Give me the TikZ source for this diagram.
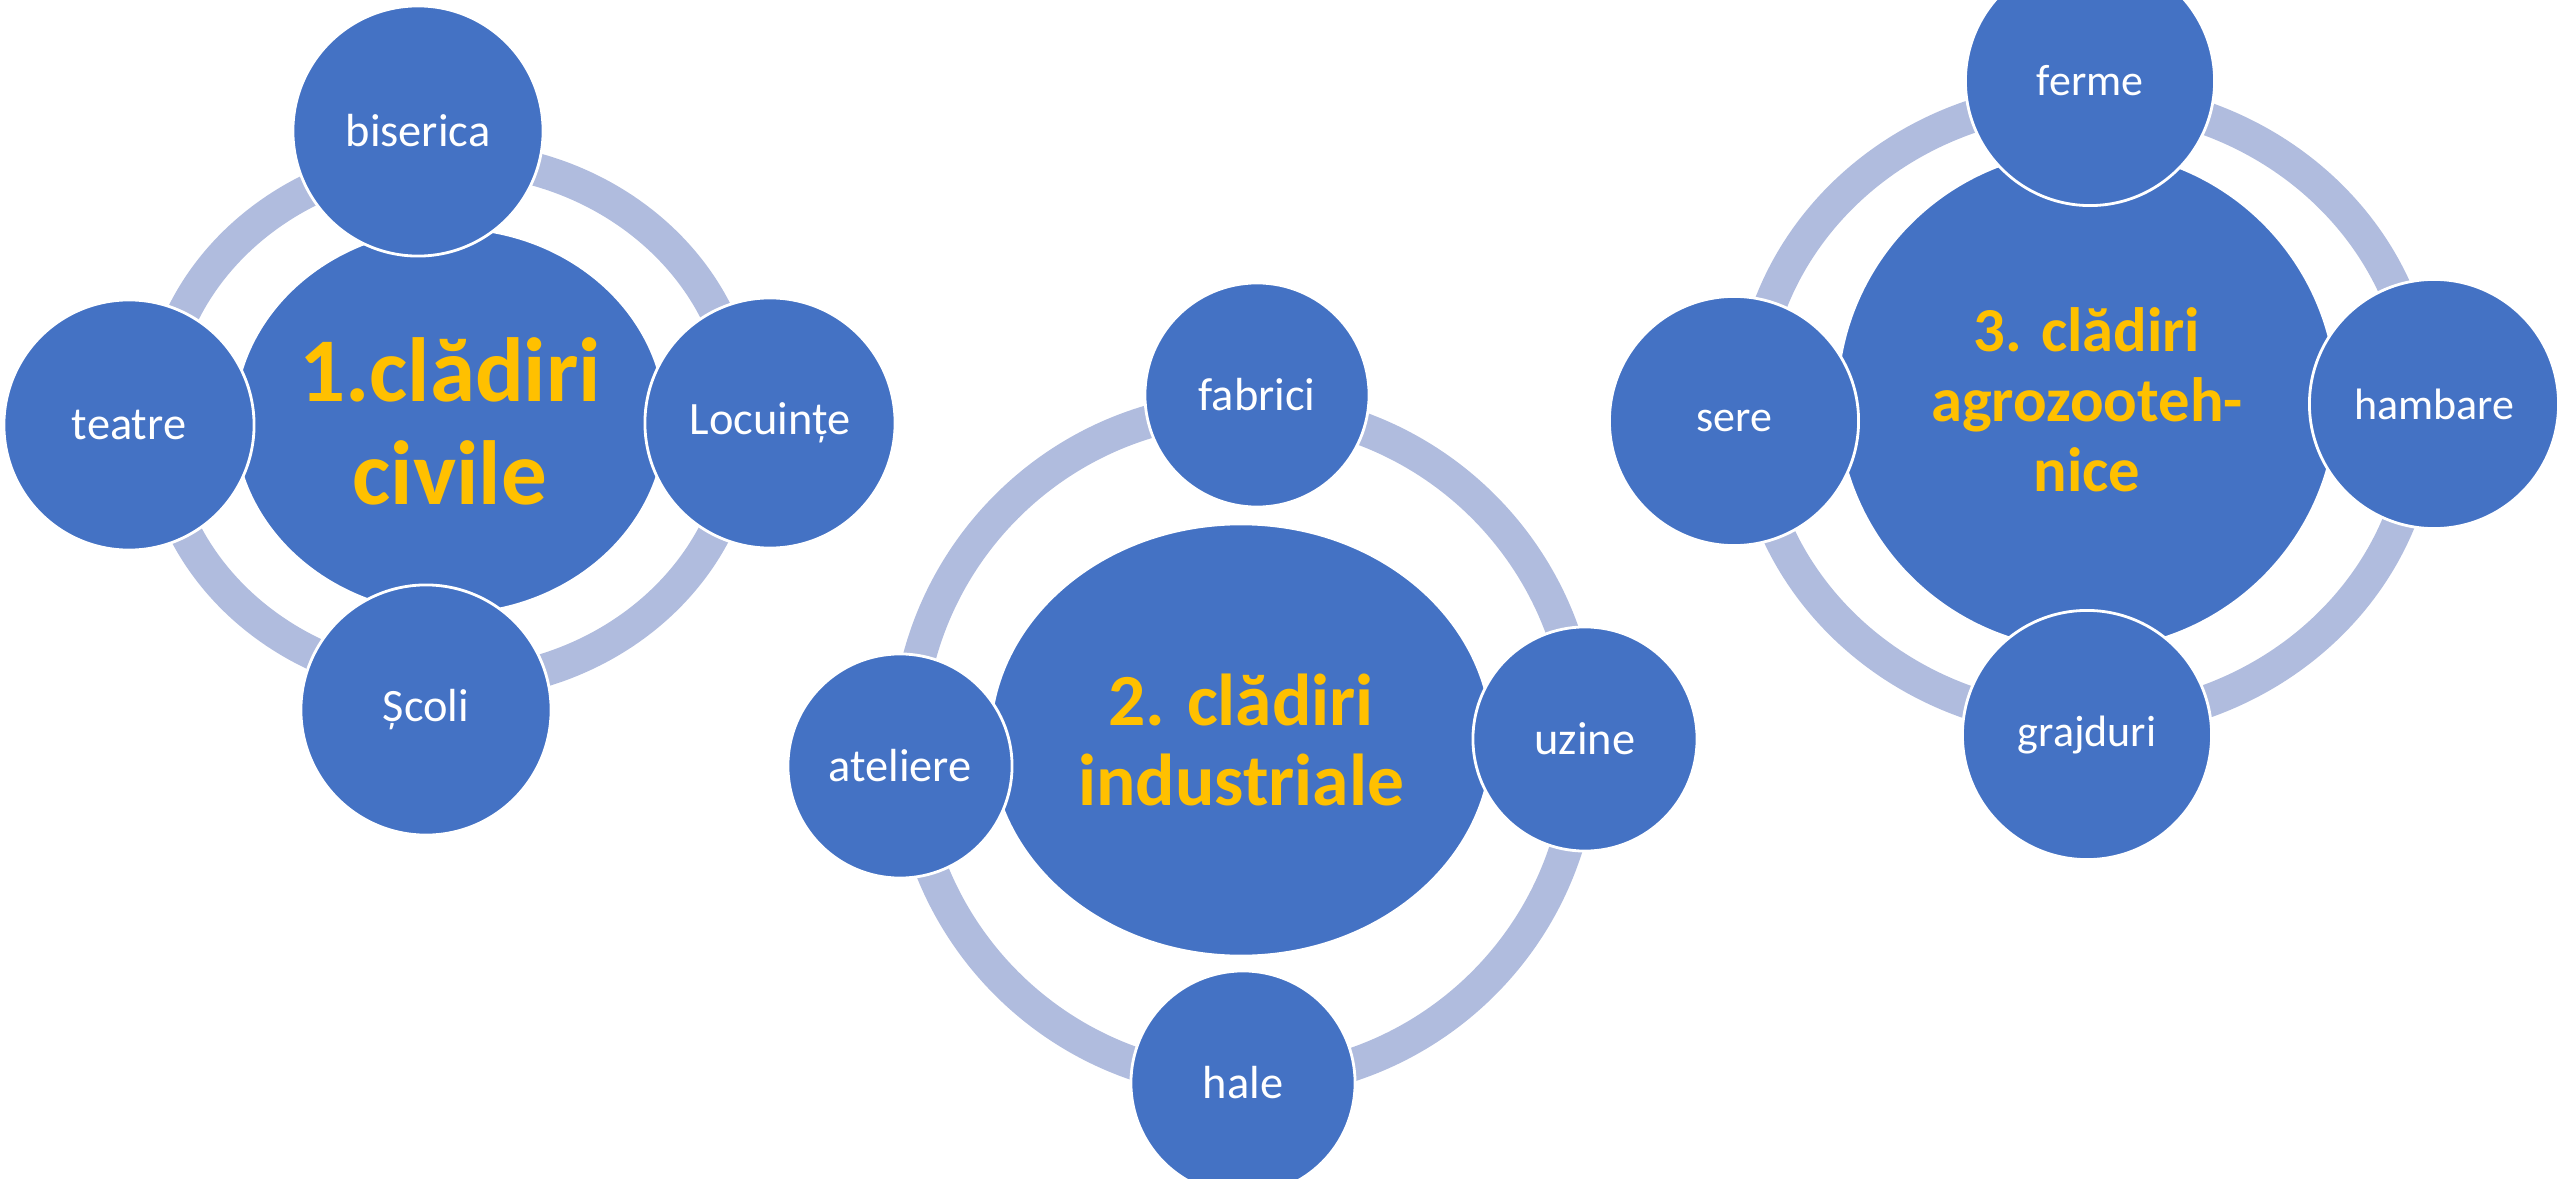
\documentclass[tikz,border=0pt]{standalone}
\usepackage{fontspec}
\setmainfont{Carlito}
\usetikzlibrary{shapes.geometric}
\definecolor{boxblue}{RGB}{68,114,196}
\definecolor{ringblue}{RGB}{176,188,222}
\definecolor{titlegold}{RGB}{255,192,0}

\begin{document}
\begin{tikzpicture}[x=0.01cm, y=-0.01cm,
		sat/.style={circle, fill=boxblue, draw=white, line width=0.8pt, text=white, inner sep=0pt, minimum size=2.5cm, font=\fontsize{13.2}{15}\selectfont},
		hub/.style={fill=boxblue, draw=white, line width=0.8pt, text=titlegold, align=center, inner sep=0pt},
		ring/.style={draw=ringblue, line width=0.33cm}]
		\useasboundingbox (0,0) rectangle (2560,1179);
		\clip (0,0) rectangle (2560,1179);
		
		\coordinate (G1) at (450,421);
		\coordinate (G2) at (1245,745);
		\coordinate (G3) at (2086,410);
		
		\draw[ring] (G1) ellipse (2.92cm and 2.63cm);
		\draw[ring] (G2) circle (3.37cm);
		\draw[ring] (G3) ellipse (3.35cm and 3.12cm);
		
		\node[hub, ellipse, minimum width=4.32cm, minimum height=3.86cm, font=\fontsize{25.9}{29.3}\selectfont\bfseries](C1) at (G1){1.clădiri\\civile};
		\node[sat](biserica) at (418,131){biserica};
		\node[sat](teatre) at (129,425){teatre};
		\node[sat](locuinte) at (770,423){Locuințe};
		\node[sat](scoli) at (426,710){Școli};
		
		\node[hub, ellipse, minimum width=5.02cm, minimum height=4.32cm, font=\fontsize{20.9}{22.9}\selectfont\bfseries](C2) at (1241,740){2. clădiri\\industriale};
		\node[sat, minimum size=2.24cm](fabrici) at (1257,395){fabrici};
		\node[sat, minimum size=2.24cm](ateliere) at (900,766){ateliere};
		\node[sat, minimum size=2.24cm](uzine) at (1585,739){uzine};
		\node[sat, minimum size=2.24cm](hale) at (1243,1083){hale};
		
		\node[hub, circle, minimum size=5cm, font=\fontsize{17.8}{19.9}\selectfont\bfseries](C3) at (2087,400){3. clădiri\\agrozooteh-\\nice};
		\node[sat, minimum size=2.49cm, font=\fontsize{12.5}{15}\selectfont](ferme) at (2090,81){ferme};
		\node[sat, minimum size=2.49cm, font=\fontsize{12.5}{15}\selectfont](sere) at (1734,421){sere};
		\node[sat, minimum size=2.49cm, font=\fontsize{12.5}{15}\selectfont](hambare) at (2434,404){hambare};
		\node[sat, minimum size=2.49cm, font=\fontsize{12.5}{15}\selectfont](grajduri) at (2087,735){grajduri};
		\end{tikzpicture}
\end{document}
